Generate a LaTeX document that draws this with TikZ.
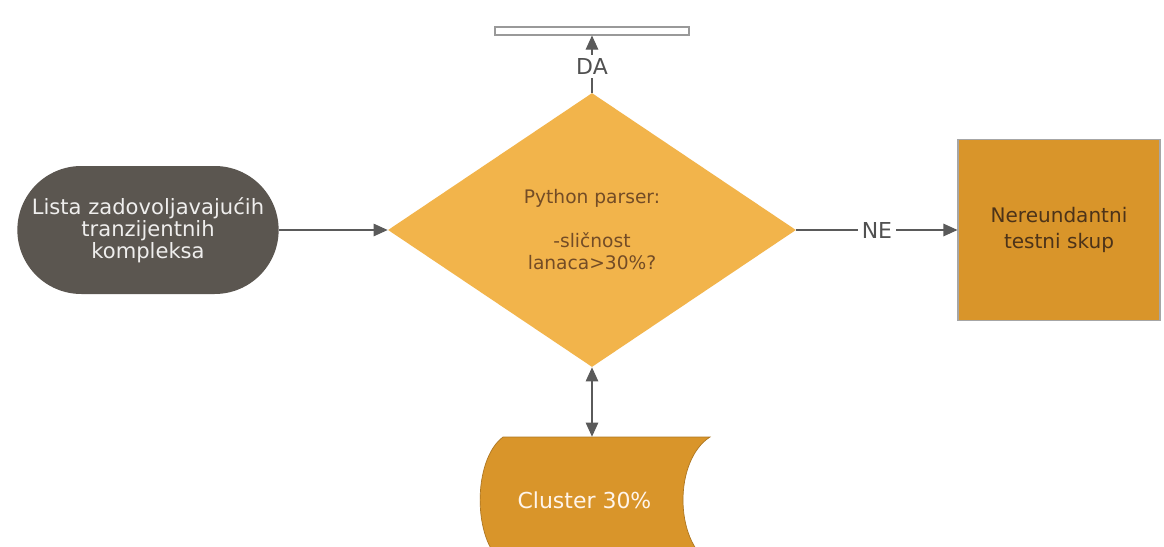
\documentclass[tikz,border=0pt]{standalone}
\usepackage{fontspec}
\setmainfont{DejaVu Sans}
\usepackage{xcolor}
\usepackage{tikz}
\usetikzlibrary{shapes,arrows.meta,positioning,calc}

\definecolor{listgrey}{HTML}{5B5650}
\definecolor{parserorange}{HTML}{F2B44B}
\definecolor{setorange}{HTML}{D9952A}
\definecolor{linegrey}{HTML}{5A5A5A}

\begin{document}
\begin{tikzpicture}[
    line/.style={draw=linegrey, line width=0.6pt},
    arr/.style={line, -{Triangle[length=0.28cm,width=0.25cm]}},
    darr/.style={line, {Triangle[length=0.28cm,width=0.25cm]}-{Triangle[length=0.28cm,width=0.25cm]}},
    lbl/.style={fill=white, text=linegrey!90!black, inner sep=2pt, font=\fontsize{12.5}{14}\selectfont},
    liststart/.style={rounded rectangle, fill=listgrey, text=white!90!listgrey,
        minimum width=5.46cm, minimum height=2.56cm, align=center,
        font=\fontsize{12}{12.5}\selectfont},
    decision/.style={diamond, fill=parserorange, text=brown!60!black,
        minimum width=8.16cm, minimum height=5.48cm, inner sep=0pt, align=center,
        font=\fontsize{10.6}{12.5}\selectfont},
    resultbox/.style={rectangle, fill=setorange, draw=gray!70, line width=0.6pt,
        text=brown!40!black, minimum width=4.04cm, minimum height=3.62cm, align=center,
        font=\fontsize{11.4}{15}\selectfont},
    outbar/.style={rectangle, draw=gray!80, fill=white, line width=0.6pt,
        minimum width=3.88cm, minimum height=0.16cm, inner sep=0pt},
    clusterdb/.style={text=white!92!orange, minimum height=2.52cm, inner sep=0pt,
        font=\fontsize{12.5}{14}\selectfont}
]
    % Canvas
    \clip (0,0) rectangle (23.28,-10.94);
    \fill[white] (0,0) rectangle (23.28,-10.94);

    % Cluster store (left side bulges out, right side curves in)
    \fill[setorange, draw=setorange!80!black, line width=0.4pt]
        (10.06,-8.74) -- (14.2,-8.74)
        .. controls (13.48,-9.2) and (13.48,-10.8) .. (14.2,-11.26)
        -- (10.06,-11.26)
        .. controls (9.45,-10.8) and (9.45,-9.2) .. (10.06,-8.74) -- cycle;

    % Nodes
    \node[liststart] (lista) at (2.96,-4.6) {Lista zadovoljavajućih\\tranzijentnih\\kompleksa};
    \node[decision] (parser) at (11.84,-4.6) {Python parser:\\[12.5pt]-sličnost\\lanaca>30\%?};
    \node[resultbox] (skup) at (21.18,-4.6) {Nereundantni\\testni skup};
    \node[outbar] (izlaz) at (11.84,-0.62) {};
    \node[clusterdb] (cluster) at (11.84,-10.0) {\hspace*{-0.3cm}Cluster 30\%};

    % Connectors
    \draw[arr] (lista.east) -- (parser.west);
    \draw[arr] (parser.north) -- node[lbl, pos=0.45] {DA} (izlaz.south);
    \draw[arr] (parser.east) -- node[lbl] {NE} (skup.west);
    \draw[darr] (parser.south) -- (cluster.north);

\end{tikzpicture}
\end{document}
